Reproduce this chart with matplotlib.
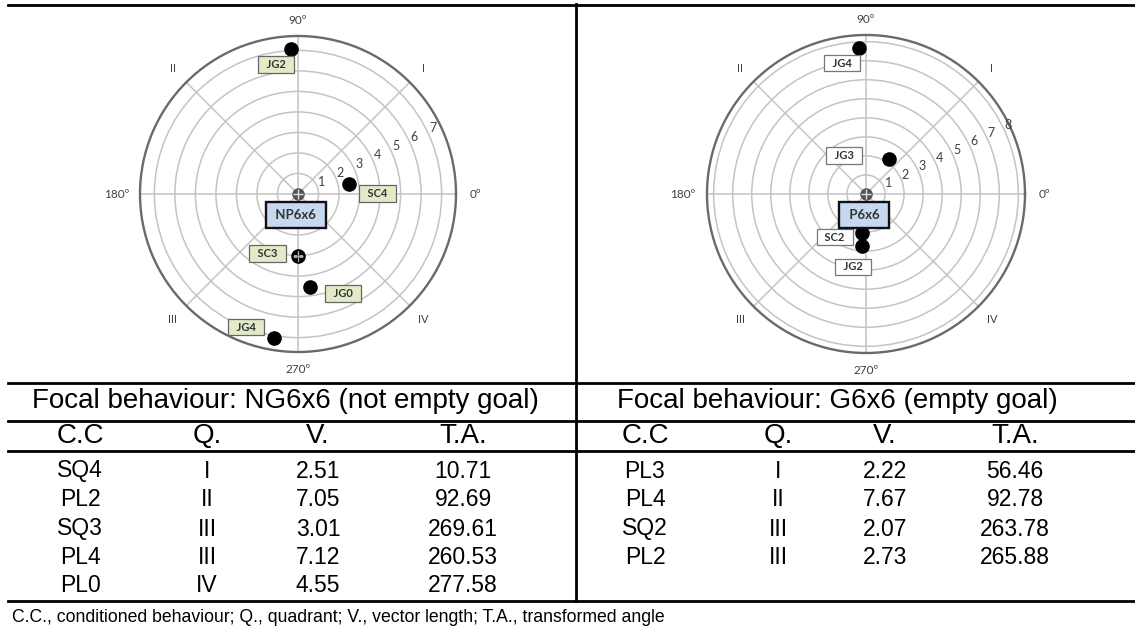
import matplotlib
matplotlib.use("Agg")
import matplotlib.pyplot as plt
from matplotlib.lines import Line2D
import numpy as np

plt.rcParams["font.family"] = ["Liberation Sans", "DejaVu Sans"]

# Focal behaviour NG6x6 (not empty goal)
ng_codes = ["SQ4", "PL2", "SQ3", "PL4", "PL0"]
ng_quadrants = ["I", "II", "III", "III", "IV"]
ng_lengths = [2.51, 7.05, 3.01, 7.12, 4.55]
ng_angles = [10.71, 92.69, 269.61, 260.53, 277.58]
ng_plot_labels = ["SC4", "JG2", "SC3", "JG4", "JG0"]

# Focal behaviour G6x6 (empty goal)
g_codes = ["PL3", "PL4", "SQ2", "PL2"]
g_quadrants = ["I", "II", "III", "III"]
g_lengths = [2.22, 7.67, 2.07, 2.73]
g_angles = [56.46, 92.78, 263.78, 265.88]
g_plot_labels = ["JG3", "JG4", "SC2", "JG2"]

W, H = 1135, 631
fig = plt.figure(figsize=(W / 100, H / 100), dpi=100)

PLOT_FONT = ["Lato", "DejaVu Sans"]
GRAY_TXT = "#404040"


def px_axes(cx, cy, rad):
    # polar axes placed by its centre and radius in image pixels
    return fig.add_axes([(cx - rad) / W, (H - cy - rad) / H, 2 * rad / W, 2 * rad / H],
                        projection="polar")


def draw_polar(ax, rmax, nrings, focal, lengths, angles, labels, offsets,
               box_fc, box_ec, crossed):
    ax.set_ylim(0, rmax)
    ax.set_xticks(np.deg2rad(np.arange(0, 360, 45)))
    ax.set_xticklabels([])
    ax.set_yticks(np.arange(1, nrings + 1))
    ax.set_yticklabels([])
    ax.grid(color="#c4c4c4", lw=1.1)
    ax.spines["polar"].set_color("#6a6a6a")
    ax.spines["polar"].set_linewidth(1.7)

    # angle and quadrant labels
    for deg, txt, k in [(0, "0\u00ba", 1.12), (90, "90\u00ba", 1.10),
                        (180, "180\u00ba", 1.15), (270, "270\u00ba", 1.11)]:
        a = np.deg2rad(deg)
        ax.text(0.5 + 0.5 * k * np.cos(a), 0.5 + 0.5 * k * np.sin(a), txt,
                transform=ax.transAxes, ha="center", va="center",
                fontsize=8.5, color=GRAY_TXT, family=PLOT_FONT)
    for deg, txt in [(45, "I"), (135, "II"), (225, "III"), (315, "IV")]:
        a = np.deg2rad(deg)
        ax.text(0.5 + 0.5 * 1.12 * np.cos(a), 0.5 + 0.5 * 1.12 * np.sin(a), txt,
                transform=ax.transAxes, ha="center", va="center",
                fontsize=8, color=GRAY_TXT, family=PLOT_FONT)
    # ring numbers
    for i in range(1, nrings + 1):
        ax.text(np.deg2rad(26), i + 0.3, str(i), ha="center", va="center",
                fontsize=9, color=GRAY_TXT, family=PLOT_FONT, clip_on=False)

    # focal behaviour at the centre
    ax.plot([0], [0], "o", ms=8, color="#555555", zorder=5, clip_on=False)
    ax.plot([0], [0], "+", ms=6.5, mew=1.0, color="#dddddd", zorder=6, clip_on=False)
    ax.annotate(" " + focal + " ", xy=(0, 0), xytext=(-2, -21), textcoords="offset pixels",
                ha="center", va="center", fontsize=9.5, fontweight="bold",
                color="#333333", family=PLOT_FONT, zorder=8,
                bbox=dict(boxstyle="square,pad=0.5", fc="#c6d9f0", ec="#111111", lw=1.7))

    th = np.deg2rad(angles)
    ax.scatter(th, lengths, s=90, color="black", zorder=6, clip_on=False)
    for t, r, lab in zip(th, lengths, labels):
        if lab in crossed:
            ax.plot([t], [r], "+", ms=6.5, mew=1.0, color="#aaaaaa", zorder=7)
        ax.annotate("  " + lab + "  ", xy=(t, r), xytext=offsets[lab],
                    textcoords="offset pixels", ha="center", va="center",
                    fontsize=8, fontweight="bold", color="#333333",
                    family=PLOT_FONT, zorder=7,
                    bbox=dict(boxstyle="square,pad=0.25", fc=box_fc, ec=box_ec, lw=0.9))


ax1 = px_axes(298, 194, 158)
draw_polar(ax1, 7.7, 7, "NP6x6", ng_lengths, ng_angles, ng_plot_labels,
           {"SC4": (29, -9), "JG2": (-15, -15), "SC3": (-30, 2),
            "JG0": (33, -7), "JG4": (-28, 11)},
           "#e2ebc8", "#666666", {"SC3"})

ax2 = px_axes(866, 194, 159)
draw_polar(ax2, 8.35, 8, "P6x6", g_lengths, g_angles, g_plot_labels,
           {"JG4": (-17, -15), "JG3": (-45, 3), "SC2": (-27, -4), "JG2": (-9, -21)},
           "white", "#777777", set())


# ---- table ----
def hline(y, x0=8, x1=W, lw=2.0):
    fig.add_artist(Line2D([x0 / W, x1 / W], [1 - y / H, 1 - y / H], color="black",
                          lw=lw, transform=fig.transFigure))


for y in [4.5, 383, 421, 451, 601]:
    hline(y)
fig.add_artist(Line2D([576 / W, 576 / W], [1 - 4 / H, 1 - 601 / H], color="black",
                      lw=2.0, transform=fig.transFigure))


def ftext(x, y, s, size=16, ha="center"):
    fig.text(x / W, 1 - y / H, s, ha=ha, va="center", fontsize=size, color="black")


ftext(285, 401, "Focal behaviour: NG6x6 (not empty goal)", size=20)
ftext(837, 401, "Focal behaviour: G6x6 (empty goal)", size=20)

left_cols = [80, 207, 318, 463]
right_cols = [645, 778, 885, 1015]
row_y = [471, 500, 529, 557, 586]

for cols in (left_cols, right_cols):
    for x, h in zip(cols, ["C.C", "Q.", "V.", "T.A."]):
        ftext(x, 436, h, size=20)

for i in range(len(ng_codes)):
    vals = [ng_codes[i], ng_quadrants[i], f"{ng_lengths[i]:.2f}", f"{ng_angles[i]:.2f}"]
    for x, v in zip(left_cols, vals):
        ftext(x, row_y[i], v, size=16.5)

for i in range(len(g_codes)):
    vals = [g_codes[i], g_quadrants[i], f"{g_lengths[i]:.2f}", f"{g_angles[i]:.2f}"]
    for x, v in zip(right_cols, vals):
        ftext(x, row_y[i], v, size=16.5)

ftext(12, 617, "C.C., conditioned behaviour; Q., quadrant; V., vector length; "
      "T.A., transformed angle", size=12.7, ha="left")

fig.savefig("out.png", dpi=100)
